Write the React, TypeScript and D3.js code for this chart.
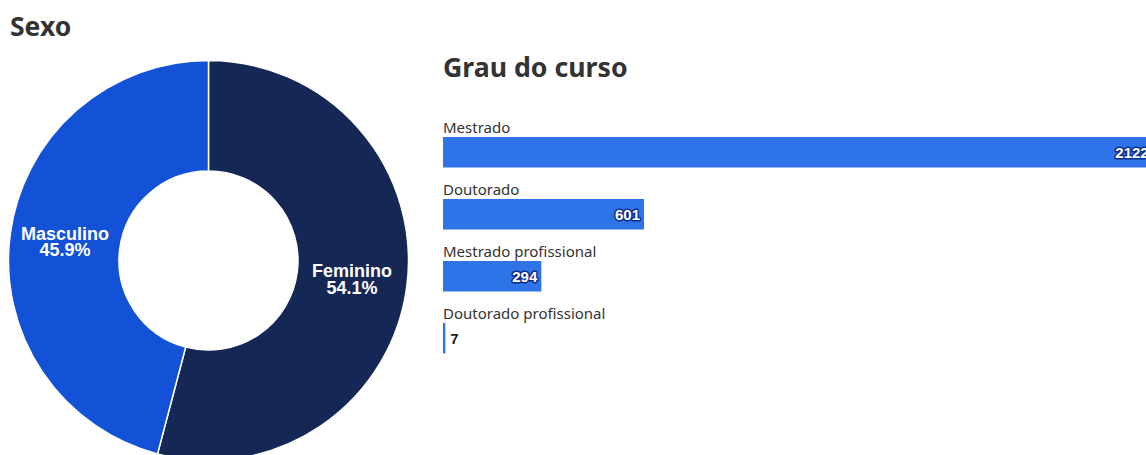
import React from "react";
import * as d3 from "d3";

const sexLabels = ["Feminino", "Masculino"];
const sexValues = [54.1, 45.9];
const sexColors = ["#142755", "#1352d6"];

const degreeLabels = ["Mestrado", "Doutorado", "Mestrado profissional", "Doutorado profissional"];
const degreeValues = [2122, 601, 294, 7];

const W = 1146;
const H = 455;
const FONT = "'Noto Sans', 'Open Sans', Roboto, sans-serif";
const LABEL_FONT = "'Liberation Sans', Arial, sans-serif";

export default function App() {
  const cx = 208.5;
  const cy = 260.5;
  const rOuter = 200;
  const rInner = 89.5;

  const pie = d3.pie<number>().sort(null).value((d) => d);
  const arcs = pie(sexValues);
  const arcGen = d3.arc<d3.PieArcDatum<number>>().innerRadius(rInner).outerRadius(rOuter);

  const x = d3.scaleLinear().domain([0, 601]).range([0, 201]);
  const y = d3.scaleBand<string>().domain(degreeLabels).range([107, 355]).paddingInner(0).paddingOuter(0);
  const barX = 443;
  const barH = 30.5;

  return (
    <svg width={W} height={H} style={{ position: "absolute", left: 0, top: 0, fontFamily: FONT }}>
      <text x={10} y={36} fontSize={26.5} fontWeight={700} fill="#333">Sexo</text>
      <g transform={`translate(${cx},${cy})`}>
        {arcs.map((a, i) => (
          <path key={i} d={arcGen(a) || ""} fill={sexColors[i]} stroke="#fff" strokeWidth={1.5} />
        ))}
        {arcs.map((a, i) => {
          const [lx, ly] = arcGen.centroid(a);
          return (
            <text key={"l" + i} x={lx} y={ly} textAnchor="middle" fill="#fff" fontWeight={700} fontSize={18} fontFamily={LABEL_FONT}>
              <tspan x={lx} dy={-2}>{sexLabels[i]}</tspan>
              <tspan x={lx} dy={16.5}>{sexValues[i].toFixed(1)}%</tspan>
            </text>
          );
        })}
      </g>

      <text x={443} y={77} fontSize={26.7} fontWeight={700} fill="#333">Grau do curso</text>
      {degreeLabels.map((lab, i) => {
        const top = (y(lab) as number);
        const barTop = top + 30;
        const w = x(degreeValues[i]);
        const inside = w > 40;
        return (
          <g key={lab}>
            <text x={barX} y={top + 26} fontSize={15} fill="#333">{lab}</text>
            <rect x={barX} y={barTop} width={Math.max(w, 2)} height={barH} fill="#2f73e9" />
            {inside ? (
              <text
                x={barX + w - 4}
                y={barTop + barH / 2 + 5.5}
                textAnchor="end"
                fontSize={15}
                fontWeight={700}
                fontFamily={LABEL_FONT}
                fill="#fff"
                stroke="#0d2d8a"
                strokeWidth={3}
                strokeLinejoin="round"
                style={{ paintOrder: "stroke" }}
              >
                {degreeValues[i]}
              </text>
            ) : (
              <text x={barX + Math.max(w, 2) + 5} y={barTop + barH / 2 + 5.5} fontSize={15} fontWeight={700} fontFamily={LABEL_FONT} fill="#222">
                {degreeValues[i]}
              </text>
            )}
          </g>
        );
      })}
    </svg>
  );
}
